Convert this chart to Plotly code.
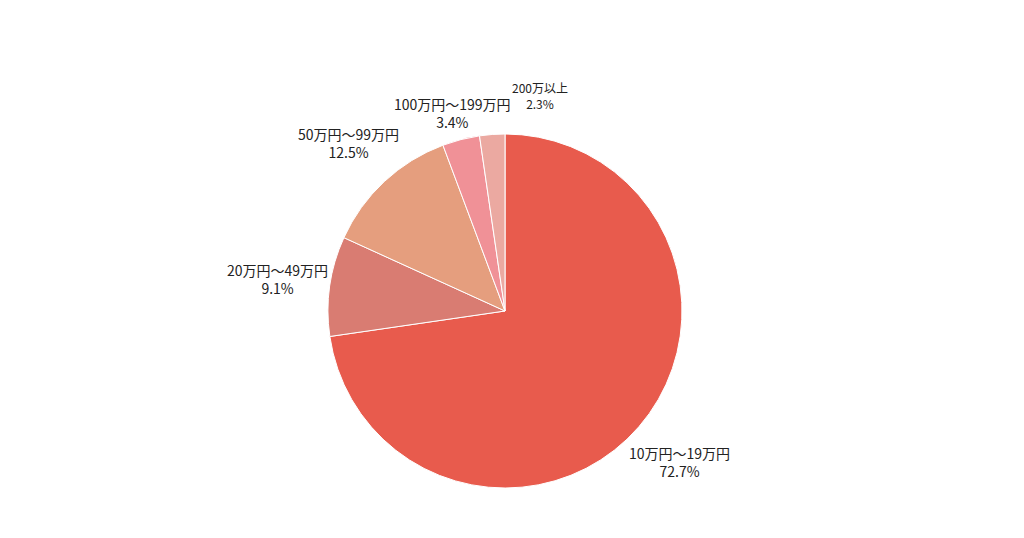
import math
import plotly.graph_objects as go

labels = ["10万円〜19万円", "20万円〜49万円", "50万円〜99万円", "100万円〜199万円", "200万以上"]
values = [72.7, 9.1, 12.5, 3.4, 2.3]
colors = ["#E85B4D", "#D97C72", "#E59E7E", "#F09197", "#EBA9A1"]

W, H = 1024, 538
OFF = 8                            # page body margin offset
CX, CY, R = 505 - OFF, 311 - OFF, 177   # pie centre / radius in figure pixels
LABEL_R = 1.3                      # label centre distance (× radius)
font_sizes = [14, 14, 14, 14, 12]
# small nudges (px) used to avoid label overlap on the thin slices
nudge = {3: (5, 25), 4: (52, 14)}

fig = go.Figure(go.Pie(
    labels=labels,
    values=values,
    sort=False,
    direction="clockwise",
    rotation=0,
    marker=dict(colors=colors, line=dict(color="white", width=1)),
    textinfo="none",
    showlegend=False,
    hoverinfo="label+percent",
    domain=dict(x=[(CX - R) / W, (CX + R) / W], y=[1 - (CY + R) / H, 1 - (CY - R) / H]),
))

total = sum(values)
cum = 0.0
annotations = []
for i, (lab, v) in enumerate(zip(labels, values)):
    mid = (cum + v / 2) / total * 2 * math.pi
    cum += v
    px = CX + LABEL_R * R * math.sin(mid)
    py = CY - LABEL_R * R * math.cos(mid)
    dx, dy = nudge.get(i, (0, 0))
    px += dx
    py += dy
    annotations.append(dict(
        x=px / W, y=1 - py / H, xref="paper", yref="paper",
        text=f"{lab}<br>{v / total * 100:.1f}%",
        showarrow=False, xanchor="center", yanchor="middle", align="center",
        font=dict(size=font_sizes[i], color="#222222", family="Noto Sans CJK JP"),
    ))

fig.update_layout(
    width=W,
    height=H,
    margin=dict(l=0, r=0, t=0, b=0),
    paper_bgcolor="white",
    plot_bgcolor="white",
    font=dict(family="Noto Sans CJK JP"),
    annotations=annotations,
)

fig.write_html("out.html")
